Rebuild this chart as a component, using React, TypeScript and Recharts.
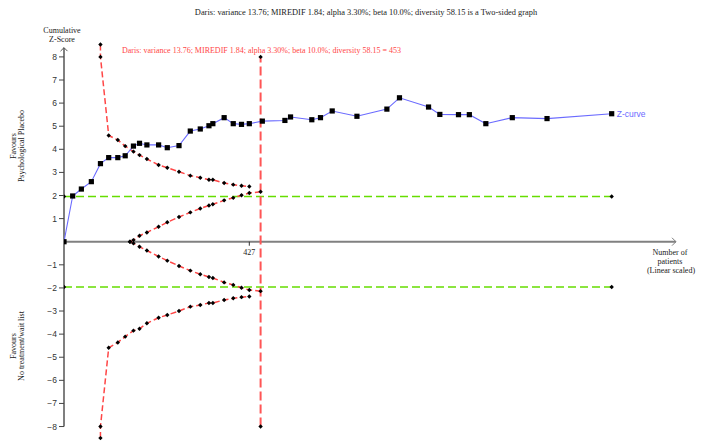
import { ComposedChart, Line, XAxis, YAxis, ReferenceLine, ReferenceDot } from 'recharts'

// cumulative Z-curve
const trialPatients = [0, 20, 40, 63, 84, 103, 124, 141, 160, 174, 191, 218, 238, 265, 291, 314, 334, 343, 369, 390, 409, 427, 457, 509, 522, 571, 591, 618, 675, 744, 773, 840, 866, 909, 934, 972, 1033, 1113, 1262]
const zScores = [0, 1.98, 2.28, 2.6, 3.38, 3.64, 3.64, 3.72, 4.14, 4.26, 4.19, 4.19, 4.07, 4.16, 4.79, 4.88, 5.02, 5.11, 5.37, 5.11, 5.08, 5.11, 5.22, 5.25, 5.4, 5.28, 5.37, 5.66, 5.43, 5.74, 6.23, 5.83, 5.51, 5.5, 5.5, 5.11, 5.37, 5.33, 5.54]

// monitoring boundaries (alpha spending)
const boundaryPatients = [84, 84, 103, 124, 141, 160, 174, 191, 218, 238, 265, 291, 314, 334, 343, 369, 390, 409, 427]
const upperBoundary = [8.54, 8.0, 4.6, 4.4, 4.14, 3.9, 3.75, 3.58, 3.32, 3.2, 3.03, 2.86, 2.77, 2.68, 2.68, 2.54, 2.47, 2.42, 2.39]
const lowerBoundary = [-8.5, -8.0, -4.59, -4.36, -4.11, -3.85, -3.77, -3.53, -3.29, -3.17, -3.0, -2.81, -2.74, -2.65, -2.65, -2.52, -2.45, -2.4, -2.37]

// futility (inner wedge)
const futilityPatients = [152, 160, 174, 191, 218, 238, 265, 291, 314, 334, 343, 369, 390, 409, 427, 453]
const futilityUpper = [0, 0.07, 0.26, 0.4, 0.65, 0.84, 1.07, 1.27, 1.44, 1.57, 1.62, 1.79, 1.9, 2.01, 2.11, 2.16]
const futilityLower = [0, -0.07, -0.22, -0.38, -0.64, -0.82, -1.05, -1.25, -1.41, -1.53, -1.57, -1.76, -1.87, -1.99, -2.09, -2.14]

const conventionalX = [0, 1262]
const conventionalZ = 1.96
const risPatients = 453
const risZ = [-8, 8]
const yTicks = [-8, -7, -6, -5, -4, -3, -2, -1, 1, 2, 3, 4, 5, 6, 7, 8]
const xTickValue = 427
const xArrowAt = 1410
const yArrowAt = 8.4

const zip = (xs: number[], ys: number[]) => xs.map((n, i) => ({ n, z: ys[i] }))

const zData = zip(trialPatients, zScores)
const upperData = zip(boundaryPatients, upperBoundary)
const lowerData = zip(boundaryPatients, lowerBoundary)
const futUpData = zip(futilityPatients, futilityUpper)
const futLowData = zip(futilityPatients, futilityLower)
const greenUp = conventionalX.map(n => ({ n, z: conventionalZ }))
const greenDown = conventionalX.map(n => ({ n, z: -conventionalZ }))
const risData = risZ.map(z => ({ n: risPatients, z }))

const RED = '#ff4646'
const GREEN = '#66dd00'
const BLUE = '#6b6bff'
const INK = '#1a1a1a'
const serif = '"Liberation Serif", "Times New Roman", serif'
const sans = '"Liberation Sans", Arial, sans-serif'

const SquareDot = (props: any) => {
  const { cx, cy, index } = props
  if (cx == null || cy == null) return null
  return <rect key={`sq-${index}`} x={cx - 2.6} y={cy - 2.6} width={5.2} height={5.2} fill="#000" />
}

const SmallDot = (props: any) => {
  const { cx, cy, index } = props
  if (cx == null || cy == null) return null
  return (
    <path
      key={`dm-${index}`}
      d={`M${cx},${cy - 2.2}L${cx + 2.2},${cy}L${cx},${cy + 2.2}L${cx - 2.2},${cy}Z`}
      fill="#000"
    />
  )
}

export default function App() {
  const last = zData[zData.length - 1]
  return (
    <div style={{ position: 'absolute', left: 0, top: 0, width: 713, height: 441, background: '#fff' }}>
      <ComposedChart width={713} height={441} margin={{ top: 33.8, right: 6.7, bottom: 0.6, left: 24 }}>
        <XAxis type="number" dataKey="n" domain={[0, 1480]} hide allowDataOverflow />
        <YAxis
          type="number"
          dataKey="z"
          domain={[-8.6, 9]}
          ticks={yTicks}
          interval={0}
          width={40}
          allowDataOverflow
          axisLine={false}
          tickSize={5}
          tickMargin={2}
          tickLine={{ stroke: '#444', strokeWidth: 1 }}
          tick={{ fontSize: 8.5, fill: '#333', fontFamily: sans }}
          tickFormatter={(v: number) => (v < 0 ? `\u2212${Math.abs(v)}` : `${v}`)}
        />

        {/* axes drawn by hand so they can stop at the arrows */}
        <ReferenceLine segment={[{ x: 0, y: 0 }, { x: xArrowAt, y: 0 }]} stroke="#808080" strokeWidth={2} ifOverflow="visible" />
        <ReferenceLine segment={[{ x: xArrowAt - 9, y: 0.17 }, { x: xArrowAt, y: 0 }]} stroke="#808080" strokeWidth={1} ifOverflow="visible" />
        <ReferenceLine segment={[{ x: xArrowAt - 9, y: -0.17 }, { x: xArrowAt, y: 0 }]} stroke="#808080" strokeWidth={1} ifOverflow="visible" />
        <ReferenceLine segment={[{ x: 0, y: -8 }, { x: 0, y: yArrowAt }]} stroke="#555" strokeWidth={1.5} ifOverflow="visible" />
        <ReferenceLine segment={[{ x: -8, y: yArrowAt - 0.15 }, { x: 0, y: yArrowAt }]} stroke="#555" strokeWidth={1} ifOverflow="visible" />
        <ReferenceLine segment={[{ x: 8, y: yArrowAt - 0.15 }, { x: 0, y: yArrowAt }]} stroke="#555" strokeWidth={1} ifOverflow="visible" />
        <ReferenceDot
          x={xTickValue}
          y={0}
          ifOverflow="visible"
          shape={(p: any) => (
            <g>
              <line x1={p.cx} y1={p.cy} x2={p.cx} y2={p.cy + 4} stroke="#333" />
              <text x={p.cx} y={p.cy + 13} textAnchor="middle" fontSize={8} fontFamily={serif} fill={INK} stroke="none">
                {xTickValue}
              </text>
            </g>
          )}
        />

        <Line data={greenUp} dataKey="z" stroke={GREEN} strokeWidth={1.5} strokeDasharray="8 4" dot={SmallDot} activeDot={false} isAnimationActive={false} />
        <Line data={greenDown} dataKey="z" stroke={GREEN} strokeWidth={1.5} strokeDasharray="8 4" dot={SmallDot} activeDot={false} isAnimationActive={false} />
        <Line data={risData} dataKey="z" stroke="#ff5555" strokeWidth={2} strokeDasharray="9 4" dot={SmallDot} activeDot={false} isAnimationActive={false} />
        <Line data={upperData} dataKey="z" stroke={RED} strokeWidth={1.5} strokeDasharray="6 3" dot={SmallDot} activeDot={false} isAnimationActive={false} />
        <Line data={lowerData} dataKey="z" stroke={RED} strokeWidth={1.5} strokeDasharray="6 3" dot={SmallDot} activeDot={false} isAnimationActive={false} />
        <Line data={futUpData} dataKey="z" stroke={RED} strokeWidth={1.5} strokeDasharray="6 3" dot={SmallDot} activeDot={false} isAnimationActive={false} />
        <Line data={futLowData} dataKey="z" stroke={RED} strokeWidth={1.5} strokeDasharray="6 3" dot={SmallDot} activeDot={false} isAnimationActive={false} />
        <Line data={zData} dataKey="z" stroke={BLUE} strokeWidth={1.1} dot={SquareDot} activeDot={false} isAnimationActive={false} />

        <ReferenceDot
          x={last.n}
          y={last.z}
          ifOverflow="visible"
          shape={(p: any) => (
            <text x={p.cx + 5} y={p.cy + 3} fontSize={8.5} fontFamily={sans} fill={BLUE} stroke="none">
              Z-curve
            </text>
          )}
        />
      </ComposedChart>

      <svg width={713} height={441} style={{ position: 'absolute', left: 0, top: 0, pointerEvents: 'none' }}>
        <g fontFamily={serif} fill={INK} fontSize={8}>
          <text x={366} y={15} textAnchor="middle" fontSize={8.4}>
            Daris: variance 13.76; MIREDIF 1.84; alpha 3.30%; beta 10.0%; diversity 58.15 is a Two-sided graph
          </text>
          <text x={122} y={53} fill={RED}>
            Daris: variance 13.76; MIREDIF 1.84; alpha 3.30%; beta 10.0%; diversity 58.15 = 453
          </text>
          <text x={62} y={33} textAnchor="middle">Cumulative</text>
          <text x={62} y={42} textAnchor="middle">Z-Score</text>
          <text x={13} y={146} dy="0.35em" textAnchor="middle" transform="rotate(-90 13 146)">Favours</text>
          <text x={21} y={146} dy="0.35em" textAnchor="middle" transform="rotate(-90 21 146)">Psychological Placebo</text>
          <text x={13} y={346} dy="0.35em" textAnchor="middle" transform="rotate(-90 13 346)">Favours</text>
          <text x={21} y={346} dy="0.35em" textAnchor="middle" transform="rotate(-90 21 346)">No treatment/wait list</text>
          <text x={670} y={255} textAnchor="middle">Number of</text>
          <text x={670} y={264} textAnchor="middle">patients</text>
          <text x={671} y={273} textAnchor="middle">(Linear scaled)</text>
        </g>
      </svg>
    </div>
  )
}
